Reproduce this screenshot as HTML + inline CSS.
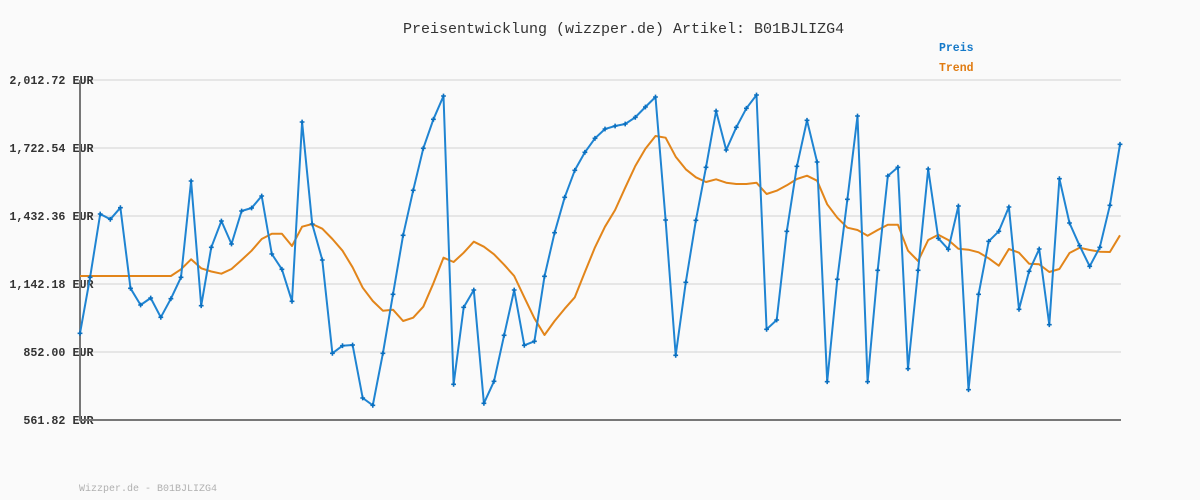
<!DOCTYPE html>
<html><head><meta charset="utf-8"><style>
html,body{margin:0;padding:0;background:#fafafa;}
svg{display:block;}
text{font-family:"Liberation Mono","DejaVu Sans Mono",monospace;}
</style></head><body>
<svg width="1200" height="500" viewBox="0 0 1200 500" xmlns="http://www.w3.org/2000/svg">
<rect width="1200" height="500" fill="#fafafa"/>
<text x="403" y="33" font-size="15" fill="#333">Preisentwicklung (wizzper.de) Artikel: B01BJLIZG4</text>
<text x="939" y="51" font-size="11.5" font-weight="bold" fill="#1479c9">Preis</text>
<text x="939" y="71" font-size="11.5" font-weight="bold" fill="#e07b10">Trend</text>
<g stroke="#e6e6e6" stroke-width="2">
<line x1="80" y1="80" x2="1121" y2="80"/>
<line x1="80" y1="148" x2="1121" y2="148"/>
<line x1="80" y1="216" x2="1121" y2="216"/>
<line x1="80" y1="284" x2="1121" y2="284"/>
<line x1="80" y1="352" x2="1121" y2="352"/>
</g>
<g font-size="11.7" font-weight="bold" fill="#333" text-anchor="end">
<text x="93.5" y="84">2,012.72 EUR</text>
<text x="93.5" y="152">1,722.54 EUR</text>
<text x="93.5" y="220">1,432.36 EUR</text>
<text x="93.5" y="288">1,142.18 EUR</text>
<text x="93.5" y="356">852.00 EUR</text>
<text x="93.5" y="424">561.82 EUR</text>
</g>
<g stroke="#777" stroke-width="2" fill="none">
<line x1="80" y1="80" x2="80" y2="421"/>
<line x1="79" y1="420" x2="1121" y2="420"/>
</g>
<defs>
<marker id="m" markerUnits="userSpaceOnUse" markerWidth="8" markerHeight="8" refX="4" refY="4" viewBox="0 0 8 8">
<path d="M4 1.6V6.4M1.6 4H6.4" stroke="#0a6fbf" stroke-width="1.6"/>
</marker>
</defs>
<polyline fill="none" stroke="#e2851a" stroke-width="2" stroke-linejoin="round" points="80,276 90.1,276 100.2,276 110.3,276 120.4,276 130.5,276 140.6,276 150.7,276 160.8,276 170.9,276 181,269.3 191.1,259.3 201.2,268.3 211.3,271.5 221.4,273.7 231.5,269 241.6,260 251.6,250.7 261.7,239 271.8,233.7 281.9,233.7 292,246 302.1,226.7 312.2,224 322.3,228.7 332.4,239 342.5,250.7 352.6,267.3 362.7,287.7 372.8,301 382.9,310.7 393,309.7 403.1,321 413.2,317.7 423.3,306.7 433.4,283.3 443.5,257.7 453.6,262 463.7,252.7 473.8,241.7 483.9,246.7 494,254.3 504.1,264.7 514.2,276 524.3,297.3 534.4,318.3 544.5,335 554.6,321 564.7,308.7 574.8,297.3 584.9,272 595,247.3 605,226.7 615.1,210 625.2,187.7 635.3,166 645.4,148.7 655.5,136 665.6,137.7 675.7,156.7 685.8,169.3 695.9,177.3 706,182 716.1,179.3 726.2,182.7 736.3,184 746.4,184 756.5,182.7 766.6,194 776.7,190.7 786.8,185.3 796.9,179 807,175.7 817.1,180.7 827.2,204.3 837.3,217.7 847.4,227.7 857.5,230 867.6,235.7 877.7,230 887.8,224.7 897.9,224.7 908,250.7 918.1,261 928.2,240 938.3,234.7 948.3,240 958.4,248.7 968.5,249.7 978.6,252.3 988.7,258.3 998.8,265.7 1008.9,249 1019,252.7 1029.1,263.7 1039.2,264.3 1049.3,272 1059.4,269 1069.5,253 1079.6,247.7 1089.7,250 1099.8,251.7 1109.9,252 1120,235.3"/>
<polyline fill="none" stroke="#1f84d2" stroke-width="2" stroke-linejoin="round" marker-start="url(#m)" marker-mid="url(#m)" marker-end="url(#m)" points="80,333.3 90.1,277.3 100.2,214 110.3,219.3 120.4,207.7 130.5,288.3 140.6,305 150.7,298 160.8,317.3 170.9,298.7 181,277.3 191.1,181 201.2,305.7 211.3,247.3 221.4,221 231.5,244 241.6,211 251.6,208 261.7,196 271.8,254 281.9,269.3 292,301.3 302.1,122 312.2,224 322.3,260 332.4,353.3 342.5,345.7 352.6,345 362.7,398 372.8,405.3 382.9,353.3 393,294.3 403.1,235.3 413.2,190.3 423.3,148.3 433.4,119.3 443.5,96 453.6,384.3 463.7,307.3 473.8,290 483.9,403.3 494,381.3 504.1,335.3 514.2,290 524.3,345.3 534.4,341.3 544.5,276.3 554.6,232.7 564.7,197.3 574.8,170.3 584.9,152.3 595,138.3 605,129 615.1,126 625.2,124 635.3,117.3 645.4,107 655.5,97 665.6,220 675.7,355.3 685.8,282.3 695.9,220.3 706,167.3 716.1,111 726.2,150 736.3,127.3 746.4,108.3 756.5,95 766.6,329.3 776.7,320 786.8,231.3 796.9,166.3 807,120.3 817.1,162 827.2,381.7 837.3,279.3 847.4,199.3 857.5,116 867.6,381.7 877.7,270.3 887.8,176 897.9,167.3 908,368.7 918.1,270.3 928.2,169 938.3,238.3 948.3,249.3 958.4,206 968.5,389.7 978.6,294.3 988.7,241.3 998.8,231.3 1008.9,207 1019,309.3 1029.1,271.3 1039.2,249 1049.3,324.7 1059.4,178.7 1069.5,223 1079.6,245.7 1089.7,266.3 1099.8,247.3 1109.9,205.3 1120,144.3"/>
<text x="79" y="491" font-size="10" fill="#b0b0b0">Wizzper.de - B01BJLIZG4</text>
</svg>
</body></html>
